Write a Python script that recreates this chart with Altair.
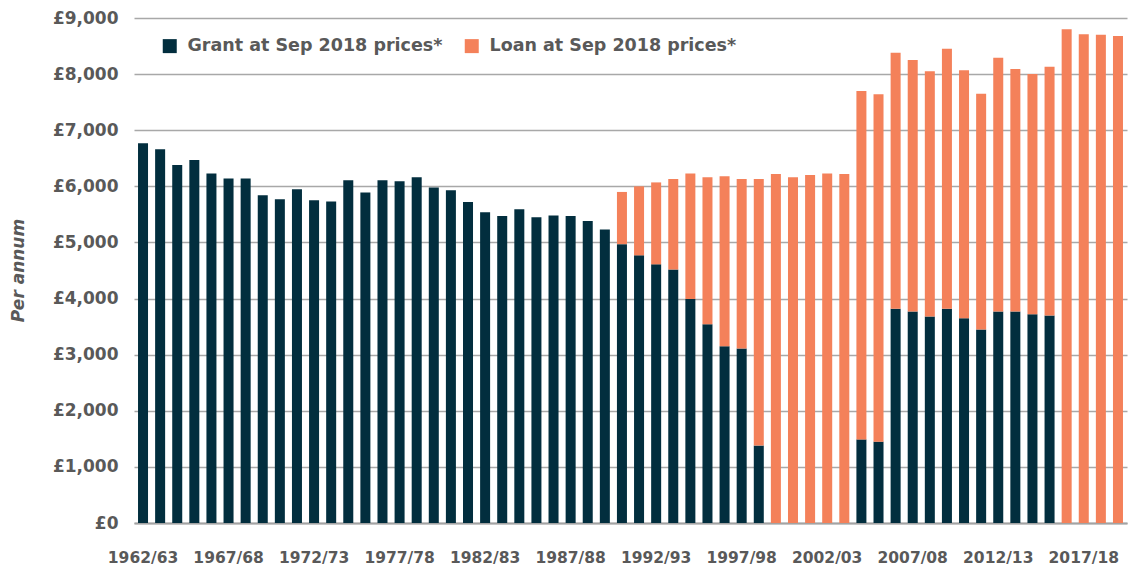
import altair as alt
import pandas as pd

# Academic years, one bar each
years = [
    "1962/63", "1963/64", "1964/65", "1965/66", "1966/67", "1967/68", "1968/69", "1969/70",
    "1970/71", "1971/72", "1972/73", "1973/74", "1974/75", "1975/76", "1976/77", "1977/78",
    "1978/79", "1979/80", "1980/81", "1981/82", "1982/83", "1983/84", "1984/85", "1985/86",
    "1986/87", "1987/88", "1988/89", "1989/90", "1990/91", "1991/92", "1992/93", "1993/94",
    "1994/95", "1995/96", "1996/97", "1997/98", "1998/99", "1999/00", "2000/01", "2001/02",
    "2002/03", "2003/04", "2004/05", "2005/06", "2006/07", "2007/08", "2008/09", "2009/10",
    "2010/11", "2011/12", "2012/13", "2013/14", "2014/15", "2015/16", "2016/17", "2017/18",
    "2018/19", "2019/20",
]

# Maximum maintenance grant, £ per annum at Sep 2018 prices (None = no grant)
grant = [
    6770, 6660, 6380, 6470, 6230, 6140, 6140, 5840, 5770, 5950,
    5750, 5730, 6110, 5890, 6110, 6090, 6160, 5980, 5930, 5720,
    5540, 5470, 5590, 5450, 5480, 5470, 5380, 5230,
    4970, 4770, 4610, 4520, 3990, 3540, 3150, 3110, 1380,
    None, None, None, None, None,
    1490, 1450,
    3820, 3770, 3680, 3820, 3650, 3450, 3770, 3770, 3720, 3700,
    None, None, None, None,
]

# Maximum maintenance loan, £ per annum at Sep 2018 prices (None = no loan)
loan = [
    None, None, None, None, None, None, None, None, None, None,
    None, None, None, None, None, None, None, None, None, None,
    None, None, None, None, None, None, None, None,
    930, 1230, 1460, 1610, 2240, 2620, 3030, 3020, 4750,
    6220, 6160, 6200, 6230, 6220,
    6210, 6190,
    4560, 4480, 4370, 4630, 4420, 4200, 4520, 4320, 4280, 4430,
    8800, 8710, 8700, 8680,
]

tick_years = years[::5]

series_names = ["Grant at Sep 2018 prices*", "Loan at Sep 2018 prices*"]
series_colors = ["#022e3e", "#f4815a"]

rows = []
for i, yr in enumerate(years):
    if grant[i] is not None:
        rows.append({"year": yr, "series": series_names[0], "value": grant[i], "stack": 0})
    if loan[i] is not None:
        rows.append({"year": yr, "series": series_names[1], "value": loan[i], "stack": 1})
df = pd.DataFrame(rows)

grey_text = "#595959"

chart = (
    alt.Chart(df)
    .mark_bar()
    .encode(
        x=alt.X(
            "year:N",
            sort=years,
            scale=alt.Scale(domain=years, paddingInner=0.415, paddingOuter=0.235),
            axis=alt.Axis(
                title=None,
                values=tick_years,
                labelAngle=0,
                ticks=False,
                labelPadding=27,
                labelFontSize=15.5,
                labelFontWeight="bold",
                labelColor=grey_text,
                domainColor="#a3a3a3",
                domainWidth=2,
                grid=False,
            ),
        ),
        y=alt.Y(
            "value:Q",
            stack="zero",
            scale=alt.Scale(domain=[0, 9000], nice=False),
            axis=alt.Axis(
                title="Per annum",
                values=list(range(0, 9001, 1000)),
                labelExpr="'£' + format(datum.value, ',')",
                domain=False,
                ticks=False,
                labelPadding=16,
                labelFontSize=17,
                labelFontWeight="bold",
                labelColor=grey_text,
                gridColor="#a8a8a8",
                gridWidth=1.5,
                titleFontSize=17,
                titleFontWeight="bold",
                titleFontStyle="italic",
                titleColor=grey_text,
                titleX=-116,
                titleY=252,
                titleBaseline="middle",
                titleAlign="center",
            ),
        ),
        color=alt.Color(
            "series:N",
            scale=alt.Scale(domain=series_names, range=series_colors),
            legend=alt.Legend(
                title=None,
                orient="none",
                legendX=27,
                legendY=19,
                direction="horizontal",
                symbolType="square",
                symbolSize=196,
                symbolStrokeWidth=0,
                labelFontSize=17.5,
                labelFontWeight="bold",
                labelColor=grey_text,
                labelLimit=0,
                labelOffset=9,
                columnPadding=20,
                padding=0,
            ),
        ),
        order=alt.Order("stack:Q"),
    )
    .properties(
        width=993,
        height=505,
        padding={"left": 134, "top": 18, "right": 8, "bottom": 50},
        autosize=alt.AutoSizeParams(type="none"),
    )
    .configure(font="DejaVu Sans")
    .configure_view(stroke=None)
)

chart.save("out.html", embed_options={"renderer": "svg", "actions": False})
